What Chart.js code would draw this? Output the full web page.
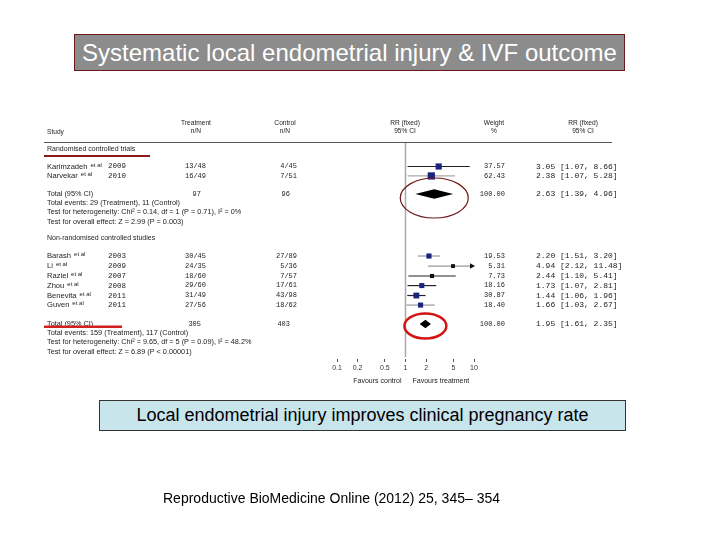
<!DOCTYPE html>
<html><head><meta charset="utf-8">
<script src="https://cdn.jsdelivr.net/npm/chart.js@4.4.1/dist/chart.umd.min.js"></script>
<style>
html,body{margin:0;padding:0;background:#fff;}
#wrap{position:relative;width:720px;height:540px;overflow:hidden;background:#fff;}
#c{position:absolute;left:0;top:0;}
.title{position:absolute;left:74px;top:34px;width:549px;height:35px;background:#8c8c8c;border:1px solid #6a1a1a;color:#fff;font:24px "Liberation Sans",Arial,sans-serif;text-align:center;line-height:35px;white-space:nowrap;}
.concl{position:absolute;left:99px;top:400px;width:525px;height:29px;background:#c9e5ec;border:1px solid #333;color:#000;font:18px "Liberation Sans",Arial,sans-serif;text-align:center;line-height:29px;white-space:nowrap;}
.cite{position:absolute;left:163px;top:490px;font:14px "Liberation Sans",Arial,sans-serif;line-height:16px;color:#000;white-space:nowrap;}
</style></head>
<body>
<div id="wrap">
<canvas id="c" width="720" height="540"></canvas>
<div class="title">Systematic local endometrial injury &amp; IVF outcome</div>
<div class="concl">Local endometrial injury improves clinical pregnancy rate</div>
<div class="cite">Reproductive BioMedicine Online (2012) 25, 345– 354</div>
</div>
<script>
// ---- data ----
const studies   = ["Karimzadeh","Narvekar","Barash","Li","Raziel","Zhou","Benevita","Guven"];
const years     = ["2009","2010","2003","2009","2007","2008","2011","2011"];
const treatment = ["13/48","16/49","30/45","24/35","18/60","29/60","31/49","27/56"];
const control   = ["4/45","7/51","27/89","5/36","7/57","17/61","43/98","18/62"];
const weights   = [37.57, 62.43, 19.53, 5.31, 7.73, 18.16, 30.87, 18.40];
const rr        = [3.05, 2.38, 2.20, 4.94, 2.44, 1.73, 1.44, 1.66];
const lower     = [1.07, 1.07, 1.51, 2.12, 1.10, 1.07, 1.06, 1.03];
const upper     = [8.66, 5.28, 3.20, 11.48, 5.41, 2.81, 1.96, 2.67];
const studyRows = [2.41, 3.38, 11.59, 12.62, 13.64, 14.62, 15.64, 16.62];

const groupNames = ["Randomised controlled trials","Non-randomised controlled studies"];
const groupRows  = [0.62, 9.74];
const totalRows  = [5.23, 18.56];
const totalTreat = ["97","305"];
const totalCtrl  = ["96","403"];
const totalRR    = [2.63, 1.95];
const totalLo    = [1.39, 1.61];
const totalHi    = [4.96, 2.35];
const eventsText = ["Total events: 29 (Treatment), 11 (Control)","Total events: 159 (Treatment), 117 (Control)"];
const hetText    = ["Test for heterogeneity: Chi\u00B2 = 0.14, df = 1 (P = 0.71), I\u00B2 = 0%","Test for heterogeneity: Chi\u00B2 = 9.65, df = 5 (P = 0.09), I\u00B2 = 48.2%"];
const effectText = ["Test for overall effect: Z = 2.99 (P = 0.003)","Test for overall effect: Z = 6.89 (P < 0.00001)"];

const xTicks     = [0.1, 0.2, 0.5, 1, 2, 5, 10];
const tickLabels = ["0.1","0.2","0.5","1","2","5","10"];

// ---- styles ----
const ciColors  = ["#222","#aaa","#999","#999","#222","#222","#222","#999"];
const sqColors  = ["#1a237e","#1a237e","#1a237e","#111","#111","#1a237e","#1a237e","#1a237e"];
const SANS = '"Liberation Sans", Arial, sans-serif';
const MONO = '"Liberation Mono", "DejaVu Sans Mono", monospace';
const TXT = '#1c1c1c';

function fmt(v){ return v.toFixed(2); }
function ciStr(e,l,h){ return fmt(e)+" ["+fmt(l)+", "+fmt(h)+"]"; }

const tablePlugin = {
  id:'table',
  beforeDatasetsDraw(chart){
    const {ctx, chartArea:a, scales:{x}} = chart;
    ctx.save();
    ctx.strokeStyle='#a8a8a8'; ctx.lineWidth=1.5;
    const px = x.getPixelForValue(1);
    ctx.beginPath(); ctx.moveTo(px, a.top); ctx.lineTo(px, a.bottom-2); ctx.stroke();
    ctx.restore();
  },
  afterDraw(chart){
    const {ctx, scales:{x,y}} = chart;
    const Y = r => y.getPixelForValue(r);
    ctx.save();
    ctx.textBaseline='middle';
    function t(s, px, py, font, align, color){
      ctx.font=font; ctx.textAlign=align||'left'; ctx.fillStyle=color||TXT; ctx.fillText(s, px, py);
    }
    // header
    const h1=Y(-2.05), h2=Y(-1.2);
    const hf = '6.6px '+SANS;
    t("Study",47,Y(-1.1),hf);
    t("Treatment",196,h1,hf,'center'); t("n/N",196,h2,hf,'center');
    t("Control",285,h1,hf,'center'); t("n/N",285,h2,hf,'center');
    t("RR (fixed)",405,h1,hf,'center'); t("95% CI",405,h2,hf,'center');
    t("Weight",494,h1,hf,'center'); t("%",494,h2,hf,'center');
    t("RR (fixed)",583,h1,hf,'center'); t("95% CI",583,h2,hf,'center');
    ctx.strokeStyle='#555'; ctx.lineWidth=1.2;
    ctx.beginPath(); ctx.moveTo(44,Y(0)-0.5); ctx.lineTo(612,Y(0)-0.5); ctx.stroke();

    const sf = '7.3px '+SANS;
    // groups
    groupNames.forEach((g,i)=>{ t(g,47,Y(groupRows[i]),'7px '+SANS); });
    // studies
    studies.forEach((s,i)=>{
      const py=Y(studyRows[i]);
      ctx.font='7.6px '+SANS; const w=ctx.measureText(s).width;
      t(s,47,py,'7.6px '+SANS);
      t("et al",47+w+3,py-1.5,'6px '+SANS);
      t(years[i],108,py,'7.5px '+MONO);
      t(treatment[i],206,py,'7px '+MONO,'right');
      t(control[i],297,py,'7px '+MONO,'right');
      t(fmt(weights[i]),505,py,'7px '+MONO,'right');
      t(ciStr(rr[i],lower[i],upper[i]),536,py,'8px '+MONO);
      // arrow for CI beyond axis
      if(upper[i]>x.max){
        const ax=x.getPixelForValue(x.max);
        ctx.fillStyle='#111'; ctx.beginPath();
        ctx.moveTo(ax-4,py-2.8); ctx.lineTo(ax+1,py); ctx.lineTo(ax-4,py+2.8); ctx.closePath(); ctx.fill();
      }
    });
    // totals
    totalRows.forEach((r,i)=>{
      const py=Y(r);
      t("Total (95% CI)",47,py,sf);
      t(totalTreat[i],201,py,'7px '+MONO,'right');
      t(totalCtrl[i],290,py,'7px '+MONO,'right');
      t("100.00",505,py,'7px '+MONO,'right');
      t(ciStr(totalRR[i],totalLo[i],totalHi[i]),536,py,'8px '+MONO);
      t(eventsText[i],47,Y(r+0.93),sf);
      t(hetText[i],47,Y(r+1.86),sf);
      t(effectText[i],47,Y(r+2.85),sf);
      // diamond
      const xl=x.getPixelForValue(totalLo[i]), xe=x.getPixelForValue(totalRR[i]), xh=x.getPixelForValue(totalHi[i]);
      const hh = i===0?4.8:4.2;
      ctx.fillStyle='#000'; ctx.beginPath();
      ctx.moveTo(xl,py); ctx.lineTo(xe,py-hh); ctx.lineTo(xh,py); ctx.lineTo(xe,py+hh); ctx.closePath(); ctx.fill();
    });
    // red underlines
    ctx.strokeStyle='#8b1b1b'; ctx.lineWidth=2;
    ctx.beginPath(); ctx.moveTo(44,Y(1.33)); ctx.lineTo(150,Y(1.33)); ctx.stroke();
    ctx.strokeStyle='#d42020'; ctx.lineWidth=2.5;
    ctx.beginPath(); ctx.moveTo(44,Y(18.85)); ctx.lineTo(122,Y(18.85)); ctx.stroke();
    // ellipses around pooled estimates
    ctx.strokeStyle='#6e1818'; ctx.lineWidth=1.2;
    ctx.beginPath(); ctx.ellipse(x.getPixelForValue(totalRR[0]), Y(totalRows[0])+4, 34, 20, 0, 0, Math.PI*2); ctx.stroke();
    ctx.strokeStyle='#d41515'; ctx.lineWidth=2.5;
    ctx.beginPath(); ctx.ellipse(x.getPixelForValue(totalRR[1]), Y(totalRows[1])+2, 21, 12.5, 0, 0, Math.PI*2); ctx.stroke();
    // favours
    const x1=x.getPixelForValue(1);
    t("Favours control",x1-4,381,'7px '+SANS,'right');
    t("Favours treatment",x1+7,381,'7px '+SANS,'left');
    ctx.restore();
  }
};

const ciDatasets = studies.map((s,i)=>({
  label:s+" CI",
  data:[{x:lower[i],y:studyRows[i]},{x:upper[i],y:studyRows[i]}],
  showLine:true, borderColor:ciColors[i], borderWidth:1.2, pointRadius:0, order:2
}));
const squares = {
  label:"RR",
  data: rr.map((v,i)=>({x:v,y:studyRows[i]})),
  showLine:false, pointStyle:'rect',
  pointRadius: weights.map(w=>(2.5+0.6*Math.sqrt(w))/Math.SQRT2),
  backgroundColor: sqColors, borderWidth:0, order:1
};

Chart.defaults.font.family = SANS;
new Chart(document.getElementById('c'), {
  type:'scatter',
  data:{datasets:[squares, ...ciDatasets]},
  options:{
    responsive:false, animation:false, events:[],
    layout:{padding:{left:337,right:246,top:143,bottom:161}},
    plugins:{legend:{display:false},tooltip:{enabled:false}},
    scales:{
      x:{type:'logarithmic',min:0.1,max:10,
        afterBuildTicks:(s)=>{ s.ticks = xTicks.map(v=>({value:v})); },
        afterFit:(s)=>{ s.height = 20; },
        grid:{display:true,drawOnChartArea:false,drawTicks:true,tickLength:3,color:'#555',tickWidth:1},
        border:{display:false},
        ticks:{autoSkip:false,maxRotation:0,minRotation:0,padding:2,color:'#333',font:{size:7,family:SANS},
          callback:(v,i)=>tickLabels[i]}
      },
      y:{type:'linear',reverse:true,min:0,max:22.15,display:false}
    }
  },
  plugins:[tablePlugin]
});
</script>
</body></html>
